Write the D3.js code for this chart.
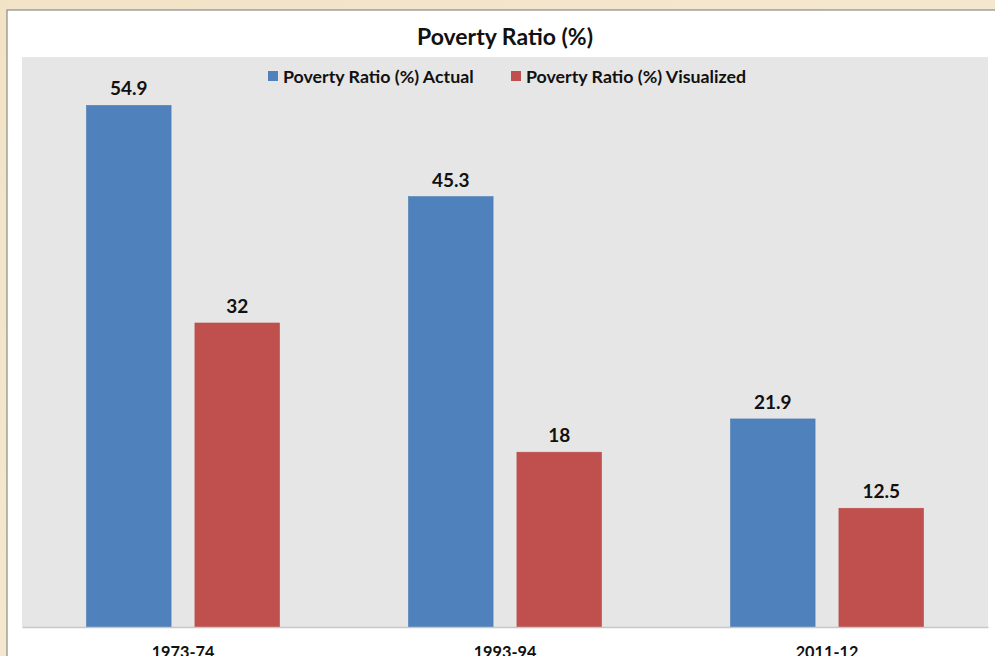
<!DOCTYPE html>
<html><head><meta charset="utf-8">
<script src="https://cdn.jsdelivr.net/npm/d3@7"></script>
<style>
html,body{margin:0;padding:0;background:#f3e7cf;}
svg{display:block;}
</style></head>
<body>
<svg id="chart" width="995" height="656"></svg>
<script>
const categories = ["1973-74", "1993-94", "2011-12"];
const seriesNames = ["Poverty Ratio (%) Actual", "Poverty Ratio (%) Visualized"];
const actualValues = [54.9, 45.3, 21.9];
const visualizedValues = [32, 18.4, 12.5];
const valueLabels = [["54.9", "45.3", "21.9"], ["32", "18", "12.5"]];
const colors = ["#4f81bd", "#c0504d"];
const titleText = "Poverty Ratio (%)";

const svg = d3.select("#chart");
const font = "Lato, 'Open Sans', sans-serif";

// parchment background
const defs = svg.append("defs");
const grad = defs.append("linearGradient").attr("id","parch").attr("x1","0").attr("x2","1").attr("y1","0").attr("y2","1");
grad.append("stop").attr("offset","0").attr("stop-color","#f2e3c6");
grad.append("stop").attr("offset","1").attr("stop-color","#f6ecd8");
svg.append("rect").attr("width",995).attr("height",656).attr("fill","url(#parch)");

// chart area
svg.append("rect").attr("x",7).attr("y",10).attr("width",995).attr("height",660)
  .attr("fill","#ffffff").attr("stroke","#8a8a8a").attr("stroke-width",1.2);

const plot = {left:22, right:988, top:57, bottom:627};
svg.append("rect").attr("x",plot.left).attr("y",plot.top)
  .attr("width",plot.right-plot.left).attr("height",plot.bottom-plot.top).attr("fill","#e6e6e6");

const x0 = d3.scaleBand().domain(categories).range([plot.left, plot.right]).paddingInner(0).paddingOuter(0);
const groupPad = 64.5;
const x1 = d3.scaleBand().domain([0,1]).range([groupPad, x0.bandwidth()-groupPad]).paddingInner(0.22).paddingOuter(0);
const y = d3.scaleLinear().domain([0,60]).range([plot.bottom, plot.top]);

const series = [actualValues, visualizedValues];
series.forEach((vals, si) => {
  const g = svg.append("g");
  g.selectAll("rect").data(vals).join("rect")
    .attr("x",(d,i)=>x0(categories[i]) + x1(si))
    .attr("y",d=>y(d))
    .attr("width",x1.bandwidth())
    .attr("height",d=>y(0)-y(d))
    .attr("fill",colors[si])
    .attr("stroke", si===0 ? "#4a7ab3" : "#b84a47").attr("stroke-width",0.6);
  g.selectAll("text").data(vals).join("text")
    .attr("x",(d,i)=>x0(categories[i]) + x1(si) + x1.bandwidth()/2)
    .attr("y",d=>y(d)-10)
    .attr("text-anchor","middle")
    .attr("font-family",font).attr("font-weight","bold").attr("font-size",19)
    .attr("fill","#111")
    .text((d,i)=>valueLabels[si][i]);
});

// x axis
const xAxis = d3.axisBottom(x0).tickSize(0).tickPadding(19);
const ax = svg.append("g").attr("transform",`translate(0,${plot.bottom})`).call(xAxis);
ax.select(".domain").attr("stroke","#c8c8c8").attr("stroke-width",1.5);
ax.selectAll("text").attr("font-family",font).attr("font-weight","bold").attr("font-size",16.3).attr("fill","#111");

// title
svg.append("text").attr("x",505).attr("y",45).attr("text-anchor","middle")
  .attr("font-family",font).attr("font-weight","bold").attr("font-size",23).attr("fill","#111")
  .text(titleText);

// legend
const legendX = [268, 511];
seriesNames.forEach((name, i) => {
  svg.append("rect").attr("x",legendX[i]).attr("y",71).attr("width",10).attr("height",10).attr("fill",colors[i]);
  svg.append("text").attr("x",legendX[i]+15).attr("y",82.5)
    .attr("font-family",font).attr("font-weight","bold").attr("font-size",17.8).attr("fill","#111")
    .text(name);
});
</script>
</body></html>
